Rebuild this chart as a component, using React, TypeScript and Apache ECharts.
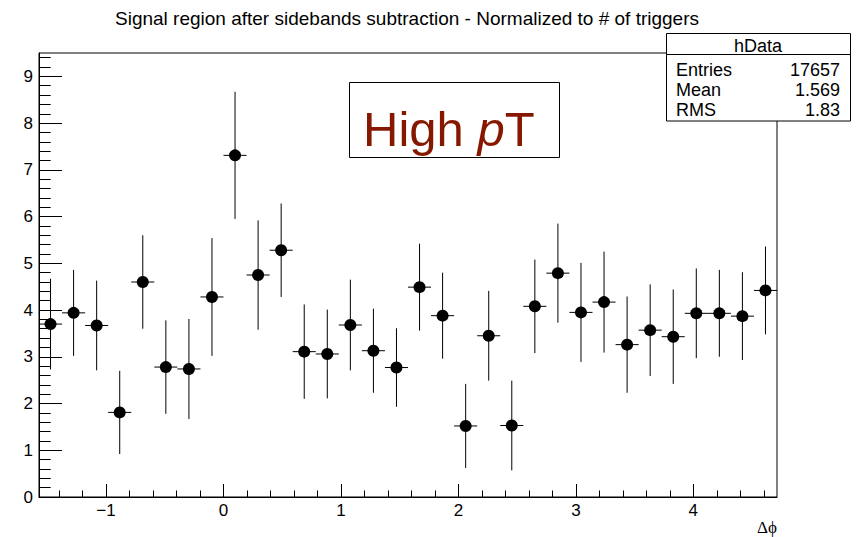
import React, { useEffect, useRef } from "react";
import * as echarts from "echarts";

// Histogram definition: 32 bins over [-pi/2, 3pi/2]
const X_MIN = -Math.PI / 2;
const X_MAX = (3 * Math.PI) / 2;
const N_BINS = 32;

// Bin contents
const values = [
  3.70, 3.94, 3.67, 1.81, 4.60, 2.78, 2.74, 4.28,
  7.31, 4.75, 5.28, 3.11, 3.06, 3.68, 3.13, 2.77,
  4.49, 3.88, 1.52, 3.45, 1.53, 4.08, 4.79, 3.95,
  4.17, 3.26, 3.57, 3.43, 3.93, 3.93, 3.87, 4.42,
];
// Bin errors
const errors = [
  0.97, 0.92, 0.96, 0.89, 1.00, 1.00, 1.07, 1.26,
  1.36, 1.17, 1.00, 1.01, 0.95, 0.97, 0.90, 0.84,
  0.93, 0.92, 0.90, 0.96, 0.96, 1.00, 1.06, 1.06,
  1.08, 1.03, 0.98, 1.01, 0.96, 0.93, 0.94, 0.94,
];

const xMajorTicks = [-1, 0, 1, 2, 3, 4];
const xMinorTicks = [
  -1.4, -1.2, -1.0, -0.8, -0.6, -0.4, -0.2, 0, 0.2, 0.4, 0.6, 0.8, 1.0, 1.2,
  1.4, 1.6, 1.8, 2.0, 2.2, 2.4, 2.6, 2.8, 3.0, 3.2, 3.4, 3.6, 3.8, 4.0, 4.2,
  4.4, 4.6,
];
const yMajorTicks = [0, 1, 2, 3, 4, 5, 6, 7, 8, 9];
const yMinorTicks = [
  0.2, 0.4, 0.6, 0.8, 1.2, 1.4, 1.6, 1.8, 2.2, 2.4, 2.6, 2.8, 3.2, 3.4, 3.6,
  3.8, 4.2, 4.4, 4.6, 4.8, 5.2, 5.4, 5.6, 5.8, 6.2, 6.4, 6.6, 6.8, 7.2, 7.4,
  7.6, 7.8, 8.2, 8.4, 8.6, 8.8, 9.2, 9.4,
];

const TITLE = "Signal region after sidebands subtraction - Normalized to # of triggers";
const STATS_NAME = "hData";
const statsRows = [
  ["Entries", "17657"],
  ["Mean", "1.569"],
  ["RMS", "1.83"],
];

const FONT = "Liberation Sans";

export default function App() {
  const ref = useRef<HTMLDivElement>(null);
  useEffect(() => {
    if (!ref.current) return;
    const chart = echarts.init(ref.current, undefined, { renderer: "svg" });
    const binW = (X_MAX - X_MIN) / N_BINS;
    const pts = values.map((v, i) => [X_MIN + (i + 0.5) * binW, v, errors[i]]);

    const fmt = (v: number) => String(v).replace("-", "\u2212");

    chart.setOption({
      animation: false,
      backgroundColor: "#fff",
      textStyle: { fontFamily: FONT },
      grid: {
        left: 39,
        top: 53,
        right: 86,
        bottom: 40,
        show: true,
        borderColor: "#000",
        borderWidth: 1,
        backgroundColor: "transparent",
      },
      xAxis: [
        {
          type: "value",
          min: X_MIN,
          max: X_MAX,
          position: "bottom",
          axisLine: { show: true, onZero: false, lineStyle: { color: "#000", width: 1 } },
          axisTick: { show: true, inside: true, length: 13, customValues: xMajorTicks, lineStyle: { color: "#000" } },
          axisLabel: {
            customValues: xMajorTicks,
            formatter: fmt,
            color: "#000",
            fontSize: 17,
            fontFamily: FONT,
            margin: 5,
          },
          splitLine: { show: false },
        },
        {
          type: "value",
          min: X_MIN,
          max: X_MAX,
          position: "bottom",
          axisLine: { show: false, onZero: false },
          axisTick: { show: true, inside: true, length: 6.5, customValues: xMinorTicks, lineStyle: { color: "#000" } },
          axisLabel: { show: false },
          splitLine: { show: false },
        },
      ],
      yAxis: [
        {
          type: "value",
          min: 0,
          max: 9.5,
          position: "left",
          axisLine: { show: true, onZero: false, lineStyle: { color: "#000", width: 1 } },
          axisTick: { show: true, inside: true, length: 23, customValues: yMajorTicks, lineStyle: { color: "#000" } },
          axisLabel: {
            customValues: yMajorTicks,
            color: "#000",
            fontSize: 17,
            fontFamily: FONT,
            margin: 6,
          },
          splitLine: { show: false },
        },
        {
          type: "value",
          min: 0,
          max: 9.5,
          position: "left",
          axisLine: { show: false, onZero: false },
          axisTick: { show: true, inside: true, length: 11.7, customValues: yMinorTicks, lineStyle: { color: "#000" } },
          axisLabel: { show: false },
          splitLine: { show: false },
        },
      ],
      series: [
        {
          type: "custom",
          xAxisIndex: 0,
          yAxisIndex: 0,
          data: pts,
          renderItem: (params: any, api: any) => {
            const x = api.value(0);
            const y = api.value(1);
            const e = api.value(2);
            const top = api.coord([x, y + e]);
            const bot = api.coord([x, y - e]);
            const l = api.coord([x - binW / 2, y]);
            const r = api.coord([x + binW / 2, y]);
            const style = { stroke: "#000", lineWidth: 1 };
            return {
              type: "group",
              children: [
                { type: "line", shape: { x1: top[0], y1: top[1], x2: bot[0], y2: bot[1] }, style },
                { type: "line", shape: { x1: l[0], y1: l[1], x2: r[0], y2: r[1] }, style },
              ],
            };
          },
          z: 2,
        },
        {
          type: "scatter",
          xAxisIndex: 0,
          yAxisIndex: 0,
          data: pts.map((p) => [p[0], p[1]]),
          symbol: "circle",
          symbolSize: 12,
          itemStyle: { color: "#000", opacity: 1 },
          z: 3,
        },
      ],
      graphic: [
        {
          type: "text",
          x: 407,
          y: 18,
          style: {
            text: TITLE,
            font: `19px "${FONT}"`,
            fill: "#000",
            align: "center",
            verticalAlign: "middle",
          },
        },
        {
          type: "text",
          x: 777,
          y: 527,
          style: {
            text: "\u0394\u03d5",
            font: `17px "Liberation Serif"`,
            fill: "#000",
            align: "right",
            verticalAlign: "middle",
          },
        },
        // High pT box
        {
          type: "rect",
          shape: { x: 349.5, y: 82.5, width: 210, height: 75 },
          style: { fill: "#fff", stroke: "#000", lineWidth: 1 },
          z: 10,
        },
        {
          type: "text",
          x: 363,
          y: 129,
          z: 11,
          style: {
            text: "{a|High }{b|p}{a|T}",
            verticalAlign: "middle",
            align: "left",
            rich: {
              a: { fontSize: 49, fontFamily: FONT, fill: "#861800" },
              b: { fontSize: 49, fontFamily: FONT, fontStyle: "italic", fill: "#861800" },
            },
          },
        },
        // Stats box
        {
          type: "rect",
          shape: { x: 666.5, y: 33.5, width: 184, height: 87.5 },
          style: { fill: "#fff", stroke: "#000", lineWidth: 1 },
          z: 10,
        },
        {
          type: "line",
          shape: { x1: 666.5, y1: 54.5, x2: 850.5, y2: 54.5 },
          style: { stroke: "#000", lineWidth: 1 },
          z: 11,
        },
        {
          type: "text",
          x: 758,
          y: 46,
          z: 11,
          style: { text: STATS_NAME, font: `18px "${FONT}"`, fill: "#000", align: "center", verticalAlign: "middle" },
        },
        ...statsRows.flatMap((row, i) => [
          {
            type: "text",
            x: 676,
            y: 70 + i * 20,
            z: 11,
            style: { text: row[0], font: `18px "${FONT}"`, fill: "#000", align: "left", verticalAlign: "middle" },
          },
          {
            type: "text",
            x: 840,
            y: 70 + i * 20,
            z: 11,
            style: { text: row[1], font: `18px "${FONT}"`, fill: "#000", align: "right", verticalAlign: "middle" },
          },
        ]),
      ],
    });
    return () => chart.dispose();
  }, []);
  return (
    <div
      ref={ref}
      style={{ position: "fixed", left: 0, top: 0, width: 863, height: 537, background: "#fff" }}
    />
  );
}
